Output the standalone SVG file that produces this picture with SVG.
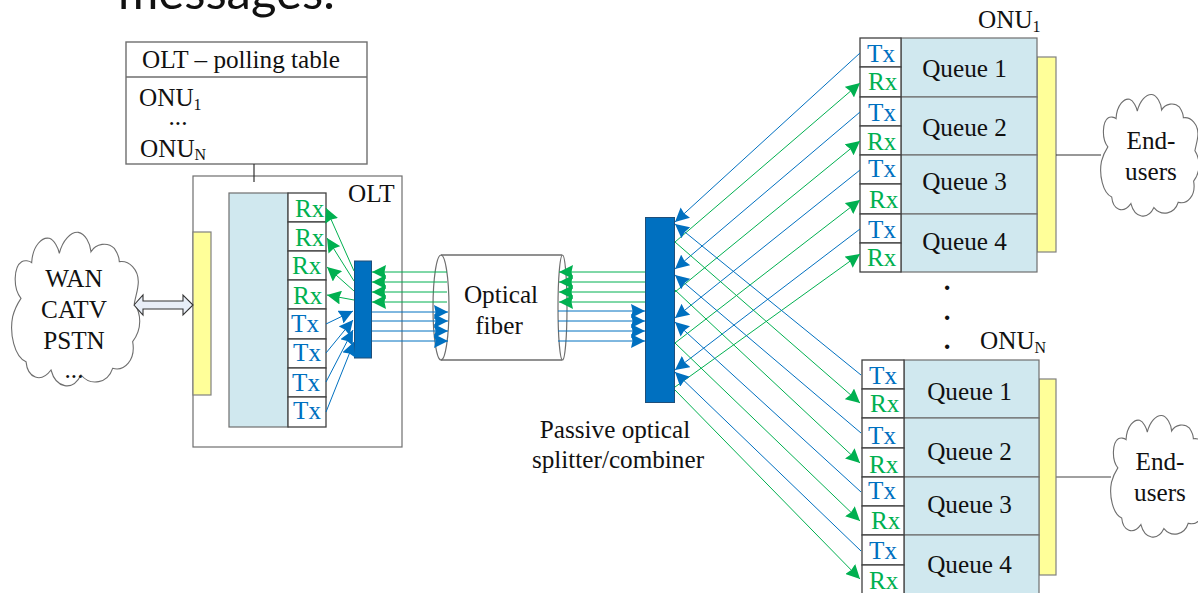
<svg xmlns="http://www.w3.org/2000/svg" xmlns:xlink="http://www.w3.org/1999/xlink" width="1198" height="593" viewBox="0 0 1198 593">
<style>
text{font-family:"Liberation Serif","Times New Roman",serif;font-size:25.2px;fill:#111;transform:translateY(1px)}
.s{font-size:16px}
.m{text-anchor:middle}
.tx{fill:#0070C0}
.rx{fill:#00B050}
.cell{fill:#fff;stroke:#404040;stroke-width:1.3}
.q{fill:#D0E8EF;stroke:#6e6e6e;stroke-width:1.2}
.y{fill:#FFFF99;stroke:#808080;stroke-width:1.2}
.bar{fill:#0070C0;stroke:#1F4E79;stroke-width:1}
.box{fill:#fff;stroke:#6e6e6e;stroke-width:1.4}
.cloud{fill:#fff;stroke:#6e6e6e;stroke-width:1.1;vector-effect:non-scaling-stroke}
.b{stroke:#0070C0;stroke-width:1;fill:none;marker-end:url(#ab)}
.g{stroke:#00B050;stroke-width:1;fill:none;marker-end:url(#ag)}
.d{font-size:27px;font-weight:bold}
</style>
<defs>
<marker id="ab" markerUnits="userSpaceOnUse" markerWidth="15" markerHeight="14" refX="14" refY="7" orient="auto"><path d="M0,0L14,7L0,14L1.500,7Z" fill="#0070C0"/></marker>
<marker id="ag" markerUnits="userSpaceOnUse" markerWidth="15" markerHeight="14" refX="14" refY="7" orient="auto"><path d="M0,0L14,7L0,14L1.500,7Z" fill="#00B050"/></marker>
<path id="cl" class="cloud" d="M60,235C35,205 38,140 62,125C70,120 85,122 92,128C95,75 125,50 145,55C160,60 172,85 175,100C185,60 210,35 232,37C252,40 268,70 270,95C285,70 320,65 340,85C350,100 355,115 355,125C385,120 412,150 412,185C412,205 405,225 400,250C420,280 425,325 395,365C405,420 370,455 335,445C320,490 270,500 240,465C215,515 165,505 150,450C120,490 80,475 75,425C40,410 25,340 35,290C40,270 50,250 60,235Z"/>
</defs>
<text x="118" y="8" style="font-family:Lato,'Open Sans',sans-serif;font-size:49px">messages.</text>
<g id="olt">
<rect class="box" x="193" y="176" width="209" height="271" style="stroke-width:1.2"/>
<text x="348" y="201">OLT</text>
<rect class="y" x="193" y="232" width="18" height="163"/>
<rect class="q" x="229" y="193" width="59" height="234"/>
<rect class="cell" x="288" y="193" width="38" height="29"/><rect class="cell" x="288" y="222" width="38" height="29"/><rect class="cell" x="288" y="251" width="38" height="29"/><rect class="cell" x="288" y="280" width="38" height="29"/>
<rect class="cell" x="288" y="309" width="38" height="30"/><rect class="cell" x="288" y="339" width="38" height="29"/><rect class="cell" x="288" y="368" width="38" height="29"/><rect class="cell" x="288" y="397" width="38" height="30"/>
<text class="rx" x="295" y="216">Rx</text><text class="rx" x="295" y="245">Rx</text><text class="rx" x="292" y="273">Rx</text><text class="rx" x="293" y="303">Rx</text>
<text class="tx" x="291" y="331">Tx</text><text class="tx" x="293" y="360">Tx</text><text class="tx" x="292" y="390">Tx</text><text class="tx" x="293" y="418">Tx</text>
<rect class="bar" x="354.500" y="261" width="17" height="97"/>
</g>
<g id="polling-table">
<rect class="box" x="126" y="42" width="241" height="122"/>
<path d="M126,77H367" stroke="#6e6e6e" stroke-width="1.4"/>
<text x="142" y="67">OLT – polling table</text>
<text x="139" y="105">ONU<tspan class="s" dy="4">1</tspan></text>
<text class="m" x="178" y="124">...</text>
<text x="140" y="156">ONU<tspan class="s" dy="3">N</tspan></text>
</g>
<g id="wan">
<use xlink:href="#cl" href="#cl" transform="translate(1,220) scale(.3333)"/>
<text class="m" x="74" y="286">WAN</text><text class="m" x="74" y="317">CATV</text><text class="m" x="74" y="348">PSTN</text><text class="m" x="74" y="377">...</text>
</g>
<g id="wan-link">
<path d="M134,305L143,295V301H183V295L193,305L183,315V309H143V315Z" fill="#E8EEF7" stroke="#333" stroke-width="1.1"/>
</g>
<g id="fiber">
<path d="M441,255H562V360H441Z" fill="#fff"/>
<path d="M441,255H562M441,360H562" stroke="#6e6e6e" stroke-width="1.3" fill="none"/>
<ellipse cx="441" cy="307.500" rx="8" ry="52.500" fill="none" stroke="#6e6e6e" stroke-width="1.2"/>
<ellipse cx="562.500" cy="307.500" rx="4.500" ry="52.500" fill="none" stroke="#6e6e6e" stroke-width="1.2"/>
<text class="m" x="501" y="302">Optical</text><text class="m" x="499" y="333">fiber</text>
</g>
<g id="splitter">
<rect class="bar" x="645.500" y="217.500" width="29" height="185"/>
<text class="m" x="615" y="437">Passive optical</text><text class="m" x="618" y="467">splitter/combiner</text>
</g>
<g id="onu-1">
<text x="978" y="27">ONU<tspan class="s" dy="4">1</tspan></text>
<rect class="y" x="1037" y="57" width="19" height="195"/>
<rect class="q" x="901" y="38" width="136" height="59"/><rect class="q" x="901" y="97" width="136" height="58"/><rect class="q" x="901" y="155" width="136" height="59"/><rect class="q" x="901" y="214" width="136" height="58"/>
<rect class="cell" x="860" y="38" width="41" height="29"/><rect class="cell" x="860" y="67" width="41" height="30"/><rect class="cell" x="860" y="97" width="41" height="29"/><rect class="cell" x="860" y="126" width="41" height="29"/><rect class="cell" x="860" y="155" width="41" height="29"/><rect class="cell" x="860" y="184" width="41" height="30"/><rect class="cell" x="860" y="214" width="41" height="29"/><rect class="cell" x="860" y="243" width="41" height="29"/>
<text class="tx" x="867" y="61">Tx</text><text class="rx" x="868" y="89">Rx</text><text class="tx" x="868" y="120">Tx</text><text class="rx" x="867" y="149">Rx</text><text class="tx" x="868" y="176">Tx</text><text class="rx" x="869" y="207">Rx</text><text class="tx" x="868" y="237">Tx</text><text class="rx" x="867" y="265">Rx</text>
<text class="m" x="964.500" y="76">Queue 1</text><text class="m" x="964.500" y="135">Queue 2</text><text class="m" x="964.500" y="189">Queue 3</text><text class="m" x="964.500" y="249">Queue 4</text>
</g>
<g id="onu-n">
<text x="980" y="348">ONU<tspan class="s" dy="4">N</tspan></text>
<rect class="y" x="1039" y="379" width="17" height="196"/>
<rect class="q" x="904" y="360" width="135" height="58"/><rect class="q" x="904" y="418" width="135" height="59"/><rect class="q" x="904" y="477" width="135" height="58"/><rect class="q" x="904" y="535" width="135" height="62"/>
<rect class="cell" x="862" y="360" width="42" height="29"/><rect class="cell" x="862" y="389" width="42" height="29"/><rect class="cell" x="862" y="418" width="42" height="30"/><rect class="cell" x="862" y="448" width="42" height="29"/><rect class="cell" x="862" y="477" width="42" height="29"/><rect class="cell" x="862" y="506" width="42" height="29"/><rect class="cell" x="862" y="535" width="42" height="30"/><rect class="cell" x="862" y="565" width="42" height="32"/>
<text class="tx" x="869" y="383">Tx</text><text class="rx" x="870" y="411">Rx</text><text class="tx" x="868" y="443">Tx</text><text class="rx" x="869" y="472">Rx</text><text class="tx" x="868" y="498">Tx</text><text class="rx" x="871" y="528">Rx</text><text class="tx" x="869" y="558">Tx</text><text class="rx" x="869" y="588">Rx</text>
<text class="m" x="969.500" y="399">Queue 1</text><text class="m" x="969.500" y="459">Queue 2</text><text class="m" x="969.500" y="512">Queue 3</text><text class="m" x="969.500" y="572">Queue 4</text>
</g>
<g id="dots"><text class="m d" x="947" y="289">.</text><text class="m d" x="947" y="319">.</text><text class="m d" x="947" y="348">.</text></g>
<g id="end-users-1">
<use xlink:href="#cl" href="#cl" transform="translate(1092.500,84.800) scale(.256,.264)"/>
<text class="m" x="1151" y="148">End-</text><text class="m" x="1151" y="179">users</text>
</g>
<g id="end-users-n">
<use xlink:href="#cl" href="#cl" transform="translate(1102.500,405.800) scale(.256,.264)"/>
<text class="m" x="1160" y="469">End-</text><text class="m" x="1160" y="500">users</text>
</g>
<g id="connectors">
<path d="M254,164V182M1056,155H1101" fill="none" stroke="#333" stroke-width="1.2"/>
<path d="M1056,477H1111" fill="none" stroke="#808080" stroke-width="1.4"/>
<path class="g" d="M354,271L326,208"/><path class="g" d="M354,281L327,238"/><path class="g" d="M354,291L327,267"/><path class="g" d="M354,300L327,295"/>
<path class="b" d="M326,324L353,311"/><path class="b" d="M326,353L353,320"/><path class="b" d="M326,382L353,330"/><path class="b" d="M326,412L354,342"/>
<path class="g" d="M447,272H372"/><path class="g" d="M447,282H372"/><path class="g" d="M447,292H372"/><path class="g" d="M447,302H372"/>
<path class="b" d="M372,312H448"/><path class="b" d="M372,321H448"/><path class="b" d="M372,331H448"/><path class="b" d="M372,341H448"/>
<path class="g" d="M645,272H559"/><path class="g" d="M645,282H559"/><path class="g" d="M645,292H559"/><path class="g" d="M645,302H559"/>
<path class="b" d="M558,311H645"/><path class="b" d="M558,321H645"/><path class="b" d="M558,331H645"/><path class="b" d="M558,341H645"/>
<path class="b" d="M860,53L675,222"/><path class="b" d="M860,112L675,269"/><path class="b" d="M860,170L675,318"/><path class="b" d="M860,229L675,370"/>
<path class="g" d="M675,242L860,83"/><path class="g" d="M675,292L860,141"/><path class="g" d="M675,343L860,200"/><path class="g" d="M675,387L860,254"/>
<path class="b" d="M861,375L675,224"/><path class="b" d="M861,433L675,275"/><path class="b" d="M861,492L675,322"/><path class="b" d="M861,551L675,372"/>
<path class="g" d="M675,242L860,403"/><path class="g" d="M675,290L860,463"/><path class="g" d="M675,343L860,521"/><path class="g" d="M675,390L860,579"/>
</g>
</svg>
